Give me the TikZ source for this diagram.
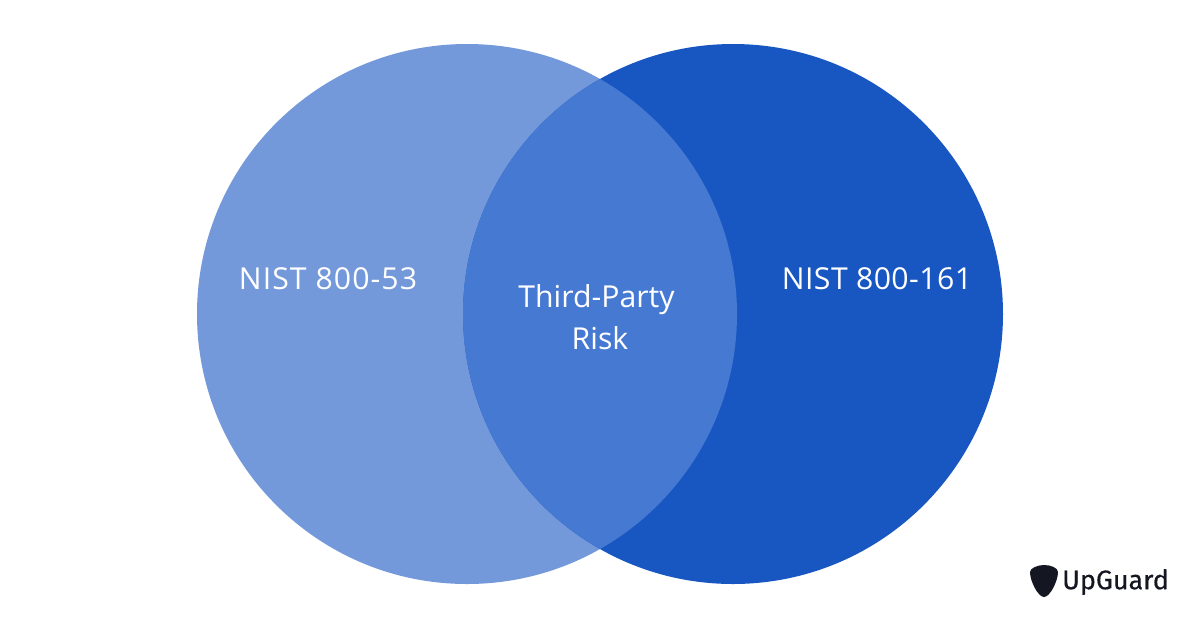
\documentclass[tikz,border=0pt]{standalone}
\usepackage{fontspec}
\setmainfont{Open Sans}
\newfontfamily\logofont{Fira Sans}
\definecolor{leftblue}{HTML}{7499DB}
\definecolor{rightblue}{HTML}{1857C1}
\definecolor{midblue}{HTML}{4679D2}
\definecolor{logoink}{HTML}{141722}
\tikzset{
    setlabel/.style={text=white, font=\fontsize{8.6}{10}\selectfont, inner sep=0pt}
}
\begin{document}
\begin{tikzpicture}
    \useasboundingbox (0, 0) rectangle (12, 6.28);
    \fill[white] (0, 0) rectangle (12, 6.28);

    \fill[leftblue] (4.67, 3.14) circle (2.7);
    \fill[rightblue] (7.33, 3.14) circle (2.7);
    \begin{scope}
        \clip (4.67, 3.14) circle (2.7);
        \fill[midblue] (7.33, 3.14) circle (2.7);
    \end{scope}

    \node[setlabel] (left) at (3.28, 3.49) {\addfontfeature{LetterSpace=3.5}NIST 800-53};
    \node[setlabel] (right) at (8.77, 3.49) {\addfontfeature{LetterSpace=1.5}NIST 800-161};
    \node[setlabel] (mid) at (5.965, 3.285) {Third-Party};
    \node[setlabel] (risk) at (6.00, 2.90) {Risk};

    \fill[logoink] (10.30, 0.560) .. controls (10.30, 0.60) and (10.38, 0.63) .. (10.44, 0.63)
        .. controls (10.51, 0.63) and (10.58, 0.60) .. (10.58, 0.56)
        .. controls (10.58, 0.47) and (10.50, 0.31) .. (10.44, 0.31)
        .. controls (10.38, 0.31) and (10.30, 0.47) .. (10.30, 0.56) -- cycle;
    \node[inner sep=0pt, text=logoink, font=\logofont\fontsize{7.65}{10}\selectfont\addfontfeature{FakeBold=0.4}] (logo) at (11.155, 0.46) {UpGuard};
\end{tikzpicture}
\end{document}
